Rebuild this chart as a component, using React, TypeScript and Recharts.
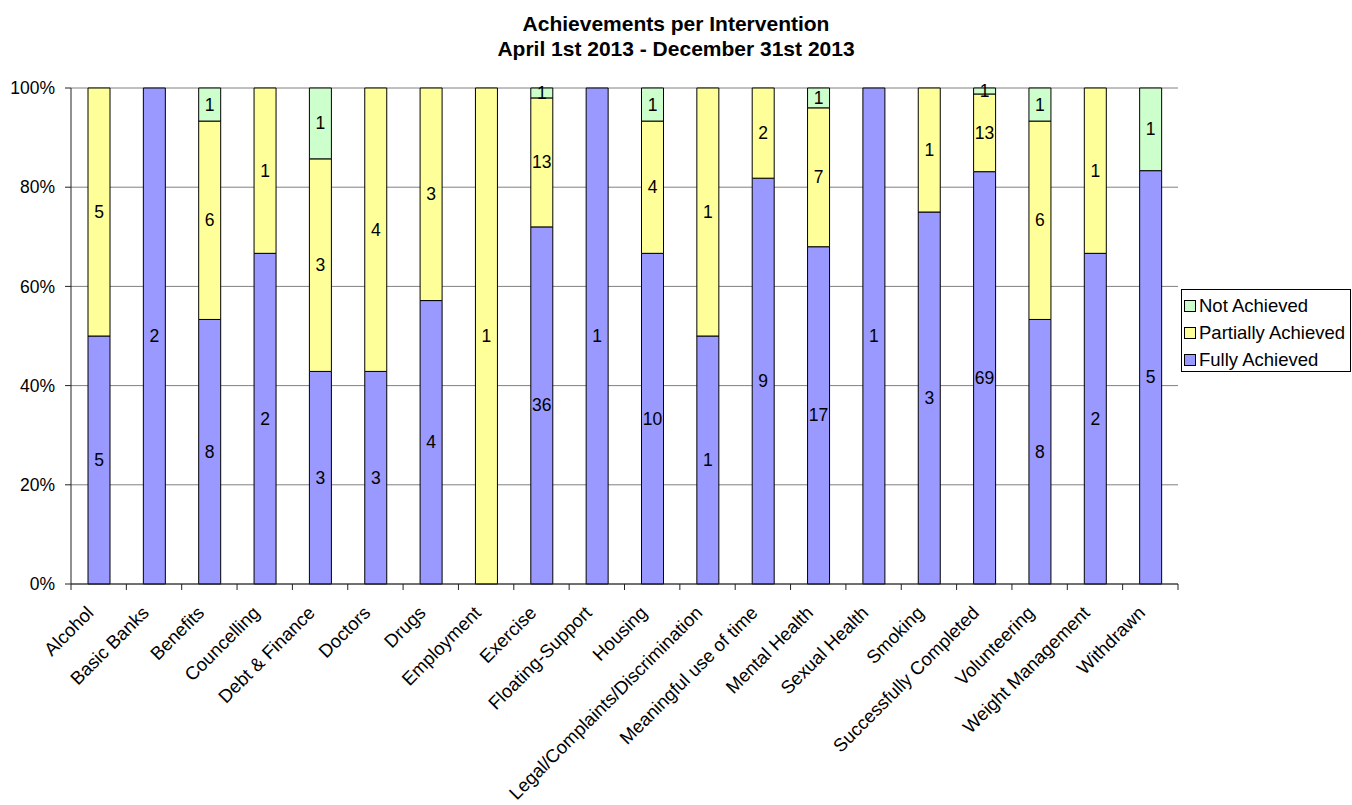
import { BarChart, Bar, XAxis, YAxis, CartesianGrid, LabelList } from "recharts";

const categories = [
  "Alcohol",
  "Basic Banks",
  "Benefits",
  "Councelling",
  "Debt & Finance",
  "Doctors",
  "Drugs",
  "Employment",
  "Exercise",
  "Floating-Support",
  "Housing",
  "Legal/Complaints/Discrimination",
  "Meaningful use of time",
  "Mental Health",
  "Sexual Health",
  "Smoking",
  "Successfully Completed",
  "Volunteering",
  "Weight Management",
  "Withdrawn",
];
const fullyAchieved = [5, 2, 8, 2, 3, 3, 4, 0, 36, 1, 10, 1, 9, 17, 1, 3, 69, 8, 2, 5];
const partiallyAchieved = [5, 0, 6, 1, 3, 4, 3, 1, 13, 0, 4, 1, 2, 7, 0, 1, 13, 6, 1, 0];
const notAchieved = [0, 0, 1, 0, 1, 0, 0, 0, 1, 0, 1, 0, 0, 1, 0, 0, 1, 1, 0, 1];
const yTicks = [0, 0.2, 0.4, 0.6, 0.8, 1];

const series = [
  { key: "fa", name: "Fully Achieved", color: "#9999FF" },
  { key: "pa", name: "Partially Achieved", color: "#FFFF99" },
  { key: "na", name: "Not Achieved", color: "#CCFFCC" },
];

const data = categories.map((name, i) => ({
  name,
  fa: fullyAchieved[i],
  pa: partiallyAchieved[i],
  na: notAchieved[i],
}));

const FONT = "'Liberation Sans', Arial, sans-serif";
const W = 1352;
const H = 805;
const PLOT_LEFT = 71;
const PLOT_RIGHT = 1178;
const PLOT_TOP = 88;
const PLOT_BOTTOM = 584;
const band = (PLOT_RIGHT - PLOT_LEFT) / categories.length;

const SegmentLabel = (props: any) => {
  const { x, y, width, height, value } = props;
  if (!value) return null;
  return (
    <text
      x={x + width / 2}
      y={y + height / 2}
      textAnchor="middle"
      dominantBaseline="central"
      fontSize={17.5}
      fontFamily={FONT}
      fill="#000"
    >
      {value}
    </text>
  );
};

const XTick = (props: any) => {
  const { x, payload, index } = props;
  const y0 = PLOT_BOTTOM;
  return (
    <g>
      {index === 0 && (
        <line x1={x - band / 2} x2={x - band / 2} y1={y0} y2={y0 + 6} stroke="#222" />
      )}
      <line x1={x + band / 2} x2={x + band / 2} y1={y0} y2={y0 + 6} stroke="#222" />
      <g transform={`translate(${x - 4},${y0 + 30})`}>
        <text
          x={0}
          y={0}
          textAnchor="end"
          transform="rotate(-45)"
          fontSize={18.5}
          fontFamily={FONT}
          fill="#000"
        >
          {payload.value}
        </text>
      </g>
    </g>
  );
};

export default function App() {
  return (
    <div style={{ position: "absolute", left: 0, top: 0, width: W, height: H, background: "#fff" }}>
      <div
        style={{
          position: "absolute",
          left: 0,
          top: 11,
          width: W,
          textAlign: "center",
          fontFamily: FONT,
          fontWeight: "bold",
          fontSize: 21,
          lineHeight: "25px",
          color: "#000",
        }}
      >
        <div>Achievements per Intervention</div>
        <div>April 1st 2013 - December 31st 2013</div>
      </div>
      <BarChart
        width={W}
        height={H}
        data={data}
        stackOffset="expand"
        barSize={22}
        margin={{ top: PLOT_TOP, right: W - PLOT_RIGHT, left: 0, bottom: 0 }}
      >
        <CartesianGrid vertical={false} stroke="#808080" />
        <XAxis
          dataKey="name"
          interval={0}
          height={H - PLOT_BOTTOM}
          axisLine={{ stroke: "#222" }}
          tickLine={false}
          tick={<XTick />}
        />
        <YAxis
          width={PLOT_LEFT}
          domain={[0, 1]}
          ticks={yTicks}
          tickFormatter={(v: number) => `${Math.round(v * 100)}%`}
          axisLine={{ stroke: "#222" }}
          tickLine={{ stroke: "#222" }}
          tickSize={6}
          tickMargin={10}
          tick={{ fontSize: 17.5, fontFamily: FONT, fill: "#000" }}
        />
        <YAxis
          yAxisId="r"
          orientation="right"
          width={0}
          tick={false}
          tickLine={false}
          axisLine={{ stroke: "#808080" }}
        />
        {series.map((s) => (
          <Bar
            key={s.key}
            dataKey={s.key}
            name={s.name}
            stackId="a"
            fill={s.color}
            stroke="#000"
            strokeWidth={1}
            isAnimationActive={false}
          >
            <LabelList dataKey={s.key} content={<SegmentLabel />} />
          </Bar>
        ))}
      </BarChart>
      <div
        style={{
          position: "absolute",
          left: 1181,
          top: 289,
          width: 170,
          height: 83,
          border: "1px solid #000",
          fontFamily: FONT,
          fontSize: 18.5,
          color: "#000",
          boxSizing: "border-box",
          paddingTop: 2,
        }}
      >
        {[...series].reverse().map((s) => (
          <div key={s.key} style={{ display: "flex", alignItems: "center", height: 27 }}>
            <span
              style={{
                display: "inline-block",
                width: 10,
                height: 10,
                background: s.color,
                border: "1px solid #000",
                marginLeft: 2,
                marginRight: 3,
              }}
            />
            <span>{s.name}</span>
          </div>
        ))}
      </div>
    </div>
  );
}
